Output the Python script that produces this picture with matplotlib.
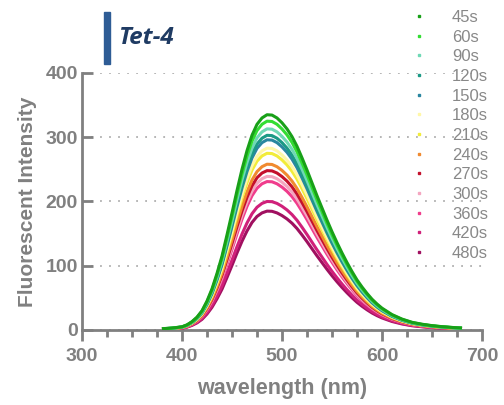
import numpy as np
import matplotlib
matplotlib.use("Agg")
import matplotlib.pyplot as plt
from matplotlib.lines import Line2D

plt.rcParams['font.family'] = ['Liberation Sans', 'DejaVu Sans']

# emission profile (wavelength nm, intensity)
wavelength = [380, 390, 400, 405, 410, 415, 420, 425, 430, 435, 440, 445, 450, 455,
              460, 465, 470, 475, 480, 485, 490, 495, 500, 505, 510, 515, 520, 525,
              530, 535, 540, 545, 550, 555, 560, 565, 570, 575, 580, 585, 590, 595,
              600, 610, 620, 630, 640, 650, 660, 670, 680]
profile_45s = [2, 3, 5, 8, 13, 20, 30, 45, 64, 88, 115, 148, 182, 217,
               250, 279, 303, 320, 330, 335, 334.5, 330, 322.5, 313, 301, 286, 268, 249,
               229, 209, 190, 171, 153, 136, 120, 105, 91, 78, 67, 57, 48, 40.5,
               34, 24, 17, 12, 9, 6.8, 5.2, 4, 3]

times = ['45s', '60s', '90s', '120s', '150s', '180s', '210s',
         '240s', '270s', '300s', '360s', '420s', '480s']
peaks = [335, 325, 313, 303, 296, 283, 275, 258, 248, 239, 231, 200, 185]
colors = ['#18a018', '#33dd33', '#6fd9b5', '#1c9a86', '#2a86a0', '#fff7a8', '#f2ec3a',
          '#f08a30', '#c4102c', '#f4a6c0', '#f03c8c', '#d0207a', '#a01060']

gray = '#808080'

fig = plt.figure(figsize=(5.04, 4.05), dpi=100)
ax = fig.add_axes([0.1627, 0.1852, 0.7936, 0.6346])

prof = np.array(profile_45s, dtype=float)
for t, pk, c in reversed(list(zip(times, peaks, colors))):
    ax.plot(wavelength, prof * pk / prof.max(), color=c, lw=2.2,
            solid_capstyle='butt', solid_joinstyle='round', zorder=3)

ax.set_xlim(300, 700)
ax.set_ylim(0, 400)
ax.set_xticks([300, 400, 500, 600, 700])
ax.set_xticks(np.arange(325, 700, 25), minor=True)
ax.set_yticks([0, 100, 200, 300, 400])

for s in ['top', 'right']:
    ax.spines[s].set_visible(False)
for s in ['left', 'bottom']:
    ax.spines[s].set_color(gray)
    ax.spines[s].set_linewidth(2)

ax.tick_params(axis='x', which='major', direction='out', length=8, width=2,
               color=gray, labelcolor=gray, labelsize=14, pad=5)
ax.tick_params(axis='x', which='minor', direction='out', length=5, width=2, color=gray)
ax.tick_params(axis='y', which='major', direction='in', length=8, width=2,
               color=gray, labelcolor=gray, labelsize=14, pad=3)
for lab in ax.get_xticklabels() + ax.get_yticklabels():
    lab.set_fontweight('bold')

ax.grid(axis='y', linestyle=(0, (1, 4)), color='#b0b0b0', lw=1.3)
ax.set_axisbelow(True)

ax.set_xlabel('wavelength (nm)', color=gray, fontsize=15.5, fontweight='bold', labelpad=9)
ax.set_ylabel('Fluorescent Intensity', color=gray, fontsize=15, fontweight='bold', labelpad=6)

# title with bar
fig.patches.append(plt.Rectangle((104 / 504, 1 - 64 / 405), 6 / 504, 52 / 405,
                                 transform=fig.transFigure, color='#2e5c95'))
fig.text(118 / 504, 1 - 38 / 405, 'Tet-4', color='#1f3b63', fontsize=17.5,
         fontweight='bold', style='italic', family=['Open Sans', 'DejaVu Sans'],
         va='center', ha='left')

handles = [Line2D([], [], ls='none', marker='s', markersize=2, color=c) for c in colors]
fig.legend(handles, times, loc='upper left', bbox_to_anchor=(402 / 504, 1.0),
           frameon=False, fontsize=12, labelcolor='#888888', handlelength=0.8,
           handletextpad=1.6, labelspacing=0.28, borderpad=0.1)

fig.savefig('out.png', dpi=100)
